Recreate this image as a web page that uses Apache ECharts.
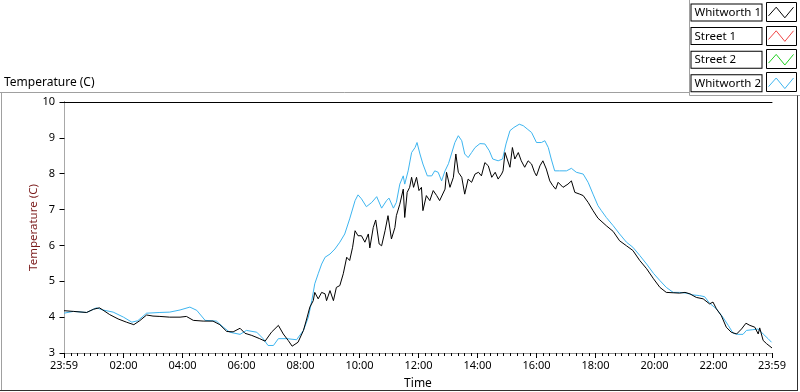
<!DOCTYPE html>
<html><head><meta charset="utf-8">
<script src="https://cdn.jsdelivr.net/npm/echarts@6/dist/echarts.min.js"></script>
<style>html,body{margin:0;padding:0;background:#fff}#c{width:800px;height:392px}</style>
</head><body><div id="c"></div>
<script>
// minutes from midnight (-1 = 23:59 of previous day), temperature in C
const seriesNames = ['Whitworth 1', 'Street 1', 'Street 2', 'Whitworth 2'];
const seriesColors = ['#000000', '#f04545', '#22d022', '#3db5f0'];
const whitworth1 = [[-1,4.18],[18,4.16],[45,4.13],[59,4.22],[71,4.26],[78,4.20],[92,4.07],[109,3.95],[126,3.86],[141,3.79],[153,3.90],[167,4.06],[180,4.03],[194,4.02],[214,4.00],[235,4.00],[248,4.02],[262,3.91],[282,3.89],[302,3.89],[316,3.79],[330,3.60],[343,3.59],[357,3.69],[367,3.55],[381,3.49],[397,3.40],[408,3.33],[421,3.58],[435,3.77],[445,3.53],[455,3.35],[463,3.19],[475,3.30],[486,3.63],[492,3.92],[499,4.28],[506,4.46],[509,4.69],[516,4.51],[523,4.69],[530,4.65],[533,4.46],[540,4.74],[547,4.46],[553,4.83],[560,4.88],[567,5.21],[574,5.67],[580,5.58],[586,5.95],[591,6.41],[597,6.27],[604,6.27],[611,6.09],[618,6.32],[621,5.93],[628,6.50],[633,6.71],[640,6.04],[645,5.99],[652,6.41],[658,6.83],[665,6.18],[672,6.50],[675,6.83],[682,7.15],[689,7.57],[692,6.78],[697,7.48],[702,7.62],[706,7.90],[710,7.62],[716,7.90],[721,7.53],[726,7.62],[729,6.97],[736,7.39],[743,7.25],[750,7.53],[757,7.39],[763,7.25],[767,7.25],[774,7.57],[777,8.04],[781,7.99],[784,7.62],[791,7.90],[796,8.55],[801,8.04],[808,7.90],[814,7.43],[821,7.85],[828,7.76],[835,7.99],[842,8.04],[848,7.94],[855,8.31],[862,8.22],[869,7.90],[876,8.04],[882,7.85],[889,7.99],[892,8.08],[896,8.59],[900,8.64],[906,8.18],[911,8.73],[916,8.41],[923,8.59],[929,8.36],[936,8.18],[943,8.36],[950,8.27],[956,8.04],[960,7.94],[967,8.22],[973,8.36],[980,8.13],[987,7.80],[993,7.67],[999,7.57],[1004,7.76],[1014,7.62],[1024,7.71],[1031,7.80],[1038,7.48],[1048,7.43],[1055,7.39],[1065,7.20],[1075,6.97],[1085,6.76],[1089,6.74],[1102,6.55],[1116,6.39],[1129,6.13],[1143,5.99],[1156,5.86],[1170,5.58],[1184,5.35],[1198,5.07],[1211,4.83],[1224,4.69],[1238,4.68],[1251,4.67],[1262,4.69],[1272,4.65],[1285,4.55],[1299,4.51],[1312,4.37],[1319,4.42],[1326,4.23],[1336,4.04],[1346,3.72],[1356,3.58],[1367,3.53],[1377,3.67],[1386,3.83],[1394,3.77],[1404,3.72],[1411,3.53],[1414,3.70],[1421,3.35],[1428,3.26],[1439,3.14]];
const street1 = [];
const street2 = [];
const whitworth2 = [[-1,4.11],[18,4.16],[45,4.13],[65,4.26],[78,4.20],[99,4.14],[120,4.00],[137,3.86],[149,3.90],[167,4.11],[194,4.13],[214,4.14],[235,4.20],[255,4.28],[269,4.19],[286,3.91],[309,3.89],[323,3.72],[336,3.58],[357,3.52],[370,3.63],[391,3.58],[404,3.40],[414,3.21],[425,3.21],[435,3.40],[452,3.40],[472,3.37],[486,3.63],[496,4.00],[503,4.46],[509,4.93],[516,5.21],[523,5.48],[530,5.67],[540,5.76],[550,5.90],[560,6.09],[570,6.32],[580,6.74],[591,7.25],[597,7.41],[604,7.30],[614,7.08],[625,7.20],[635,7.36],[645,7.04],[655,7.25],[660,7.32],[669,7.04],[675,7.20],[682,7.71],[689,7.94],[692,7.71],[699,8.08],[706,8.59],[713,8.73],[717,8.87],[723,8.55],[729,8.27],[738,7.94],[747,7.94],[753,8.08],[760,8.04],[767,7.80],[774,8.08],[781,8.28],[787,8.55],[794,8.87],[801,9.06],[808,8.92],[814,8.55],[821,8.45],[828,8.59],[835,8.73],[845,8.84],[855,8.83],[864,8.64],[871,8.41],[882,8.36],[891,8.41],[898,8.83],[906,9.20],[914,9.29],[925,9.38],[933,9.34],[941,9.25],[950,9.15],[960,8.87],[970,8.87],[977,8.92],[984,8.73],[990,8.41],[997,8.08],[1007,8.08],[1021,8.08],[1031,8.15],[1041,8.04],[1055,7.99],[1065,7.76],[1075,7.43],[1085,7.11],[1092,6.97],[1102,6.78],[1116,6.55],[1129,6.32],[1143,6.09],[1156,5.95],[1170,5.72],[1184,5.48],[1198,5.22],[1211,5.02],[1224,4.83],[1238,4.69],[1251,4.69],[1265,4.67],[1278,4.62],[1292,4.60],[1302,4.57],[1312,4.39],[1326,4.23],[1339,4.00],[1350,3.77],[1360,3.55],[1370,3.52],[1380,3.52],[1387,3.63],[1400,3.65],[1411,3.67],[1421,3.53],[1431,3.40],[1438,3.30]];
const majorTicks = [-1,120,240,360,480,600,720,840,960,1080,1200,1320,1439];
const tickLabels = ['23:59','02:00','04:00','06:00','08:00','10:00','12:00','14:00','16:00','18:00','20:00','22:00','23:59'];
const yTicks = [3,4,5,6,7,8,9,10];

const FONT = 'Noto Sans';
const minorTicks = [];
for (let i = 0; i < majorTicks.length - 1; i++) {
  const a = Math.max(majorTicks[i], 0), b = majorTicks[i + 1];
  for (let k = 1; k < 9; k++) { const v = a + k * 120 / 9; if (v < b - 2) minorTicks.push(v); }
}
const labelMap = {}; majorTicks.forEach((v, i) => labelMap[v] = tickLabels[i]);

const chart = echarts.init(document.getElementById('c'), null, {renderer: 'canvas'});
const gridL = 64, gridT = 102, gridW = 708, gridH = 251;
const iconBoxCenters = [11.8, 35.1, 58.4, 81.7];
const graphics = [
  {type:'line', shape:{x1:0,y1:92.5,x2:689.5,y2:92.5}, style:{stroke:'#a0a0a0',lineWidth:1}},
  {type:'line', shape:{x1:689.5,y1:0,x2:689.5,y2:95.5}, style:{stroke:'#a0a0a0',lineWidth:1}},
  {type:'line', shape:{x1:689.5,y1:95.5,x2:800,y2:95.5}, style:{stroke:'#a0a0a0',lineWidth:1}},
  {type:'line', shape:{x1:1.5,y1:92.5,x2:1.5,y2:390.5}, style:{stroke:'#a0a0a0',lineWidth:1}},
  {type:'line', shape:{x1:0,y1:390.5,x2:798,y2:390.5}, style:{stroke:'#303030',lineWidth:1}},
  {type:'line', shape:{x1:797.5,y1:95.5,x2:797.5,y2:391}, style:{stroke:'#303030',lineWidth:1}}
];
iconBoxCenters.forEach(c => graphics.push({type:'rect', z:0, shape:{x:766.5,y:Math.round(c-9.5)+0.5,width:30,height:19}, style:{stroke:'#000',fill:'#fff',lineWidth:1}}));

chart.setOption({
  animation: false,
  backgroundColor: '#fff',
  textStyle: {fontFamily: FONT},
  title: {text: 'Temperature (C)', left: 4, top: 77, padding: 0, textStyle: {fontFamily: FONT, fontSize: 12, fontWeight: 'normal', color: '#000'}},
  graphic: graphics,
  legend: {
    orient: 'vertical', right: 6, top: 3.5, padding: 0, itemGap: 5.6, align: 'right',
    itemWidth: 25, itemHeight: 11, selectedMode: false,
    icon: 'path://M0,9L8,0L17,11L26,0',
    data: seriesNames.map((n, i) => ({name: n, itemStyle: {color: 'transparent', borderColor: seriesColors[i], borderWidth: 1}})),
    formatter: '{a|{name}}',
    textStyle: {padding: [0, 2, 0, 0], rich: {a: {fontFamily: FONT, fontSize: 11.5, color: '#000', align: 'left', width: 64, height: 15, lineHeight: 15, padding: [1, 3, 0, 3], borderColor: '#000', borderWidth: 1, backgroundColor: '#fff'}}}
  },
  grid: {left: gridL, top: gridT, width: gridW, height: gridH, containLabel: false, outerBoundsMode: 'none'},
  xAxis: [
    {type: 'value', min: -1, max: 1439, position: 'bottom',
     name: 'Time', nameLocation: 'middle', nameGap: 25, nameMoveOverlap: false, nameTextStyle: {fontFamily: FONT, fontSize: 12, color: '#000'},
     axisLine: {show: true, lineStyle: {color: '#909090'}},
     axisTick: {show: true, customValues: majorTicks, length: 5, lineStyle: {color: '#000'}},
     axisLabel: {show: true, customValues: majorTicks, margin: 7, fontFamily: FONT, fontSize: 11, color: '#000', formatter: v => labelMap[v] || ''},
     splitLine: {show: false}},
    {type: 'value', min: -1, max: 1439, position: 'bottom',
     axisLine: {show: false},
     axisTick: {show: true, customValues: minorTicks, length: 3, lineStyle: {color: '#000'}},
     axisLabel: {show: false}, splitLine: {show: false}},
    {type: 'value', min: -1, max: 1439, position: 'top',
     axisLine: {show: true, lineStyle: {color: '#000'}}, axisTick: {show: false}, axisLabel: {show: false}, splitLine: {show: false}}
  ],
  yAxis: [
    {type: 'value', min: 3, max: 10, interval: 1, position: 'left',
     name: 'Temperature (C)', nameLocation: 'middle', nameGap: 24, nameMoveOverlap: false, nameTextStyle: {fontFamily: FONT, fontSize: 11.5, color: '#7a1a1a'},
     axisLine: {show: true, lineStyle: {color: '#000'}},
     axisTick: {show: true, length: 5, lineStyle: {color: '#000'}},
     axisLabel: {show: true, margin: 9, fontFamily: FONT, fontSize: 11, color: '#000', customValues: yTicks},
     splitLine: {show: false}},
    {type: 'value', min: 3, max: 10, position: 'right',
     axisLine: {show: true, lineStyle: {color: '#a8a8a8'}}, axisTick: {show: false}, axisLabel: {show: false}, splitLine: {show: false}}
  ],
  series: [
    {name: seriesNames[0], type: 'line', data: whitworth1, showSymbol: false, symbol: 'none', lineStyle: {width: 1, color: seriesColors[0]}, itemStyle: {color: seriesColors[0]}, z: 3},
    {name: seriesNames[1], type: 'line', data: street1, showSymbol: false, symbol: 'none', lineStyle: {width: 1, color: seriesColors[1]}, itemStyle: {color: seriesColors[1]}},
    {name: seriesNames[2], type: 'line', data: street2, showSymbol: false, symbol: 'none', lineStyle: {width: 1, color: seriesColors[2]}, itemStyle: {color: seriesColors[2]}},
    {name: seriesNames[3], type: 'line', data: whitworth2, showSymbol: false, symbol: 'none', lineStyle: {width: 1, color: seriesColors[3]}, itemStyle: {color: seriesColors[3]}, z: 2}
  ]
});
</script></body></html>
